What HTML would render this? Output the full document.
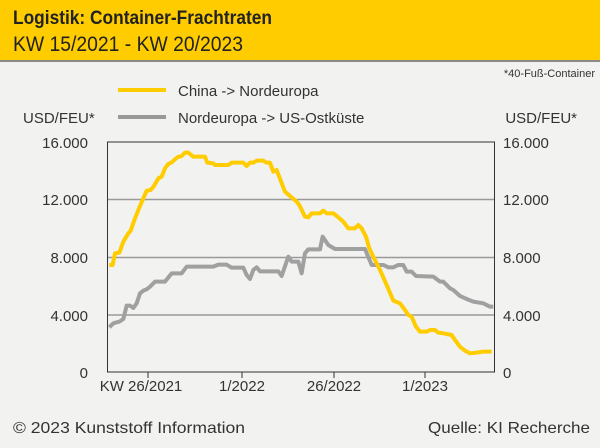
<!DOCTYPE html>
<html><head><meta charset="utf-8"><style>
body{margin:0;width:600px;height:443px;background:#f2f2f1;overflow:hidden;font-family:"Liberation Sans",sans-serif}
</style></head><body>
<svg width="600" height="443" xmlns="http://www.w3.org/2000/svg" font-family="Liberation Sans, sans-serif">
<rect x="0" y="0" width="600" height="61" fill="#ffcc00"/>
<rect x="0" y="60" width="600" height="2" fill="#8a8a86"/>
<text x="13" y="24" font-size="19" font-weight="bold" fill="#222" textLength="259" lengthAdjust="spacingAndGlyphs">Logistik: Container-Frachtraten</text>
<text x="13" y="51" font-size="21" fill="#222" textLength="230" lengthAdjust="spacingAndGlyphs">KW 15/2021 - KW 20/2023</text>
<text x="595" y="77" font-size="11" fill="#333" text-anchor="end">*40-Fuß-Container</text>
<rect x="118" y="88" width="48" height="4" fill="#ffcc00"/>
<rect x="118" y="115" width="48" height="4" fill="#999"/>
<text x="178" y="96" font-size="15" fill="#333">China -&gt; Nordeuropa</text>
<text x="178" y="123" font-size="15" fill="#333">Nordeuropa -&gt; US-Ostküste</text>
<text x="23" y="123" font-size="15" fill="#333">USD/FEU*</text>
<text x="577" y="123" font-size="15" fill="#333" text-anchor="end">USD/FEU*</text>
<g stroke="#999" stroke-width="1.5">
<line x1="107" y1="199.5" x2="495" y2="199.5"/>
<line x1="107" y1="257.5" x2="495" y2="257.5"/>
<line x1="107" y1="315" x2="495" y2="315"/>
</g>
<g stroke="#333" stroke-width="1" fill="none">
<rect x="107.5" y="142" width="387" height="230"/>
<line x1="148" y1="372" x2="148" y2="378"/>
<line x1="242" y1="372" x2="242" y2="378"/>
<line x1="334" y1="372" x2="334" y2="378"/>
<line x1="425" y1="372" x2="425" y2="378"/>
</g>
<g font-size="15" fill="#333" text-anchor="end">
<text x="88" y="148">16.000</text><text x="88" y="205">12.000</text><text x="88" y="263">8.000</text><text x="88" y="321">4.000</text><text x="88" y="378">0</text>
</g>
<g font-size="15" fill="#333" text-anchor="start">
<text x="503" y="148">16.000</text><text x="503" y="205">12.000</text><text x="503" y="263">8.000</text><text x="503" y="321">4.000</text><text x="503" y="378">0</text>
</g>
<g font-size="15" fill="#333" text-anchor="middle">
<text x="141" y="391">KW 26/2021</text><text x="242" y="391">1/2022</text><text x="334" y="391">26/2022</text><text x="425" y="391">1/2023</text>
</g>
<g transform="translate(90,130) scale(0.3333)" fill="none" stroke-width="12" stroke-linejoin="round">
<polyline stroke="#a0a0a0" points="58,592 70,580 80,577 88,575 100,567 110,527 120,527 130,534 140,520 150,490 160,482 170,478 180,470 195,455 225,455 245,430 275,430 290,410 370,410 385,404 410,404 425,413 460,413 470,435 480,447 490,420 500,412 510,424 565,424 575,438 595,380 605,395 625,395 635,430 645,370 655,358 690,358 698,320 715,345 735,357 825,357 845,405 880,405 895,412 910,412 925,405 940,405 950,425 965,425 978,438 1030,440 1050,455 1060,455 1080,475 1090,480 1110,498 1130,507 1150,515 1180,520 1200,530 1210,530"/>
<polyline stroke="#ffcc00" points="58,405 68,405 75,370 88,368 100,335 115,310 122,302 135,265 150,228 170,182 182,180 192,168 205,145 215,140 225,115 235,102 245,97 262,82 275,78 285,68 295,68 310,80 345,80 352,98 370,100 375,105 415,105 425,98 460,98 470,108 480,98 490,98 500,92 520,92 530,98 540,98 550,125 560,120 585,185 600,198 620,215 628,225 645,260 655,262 665,250 690,250 700,242 710,250 730,250 745,262 760,275 775,295 795,295 805,285 815,295 828,320 838,355 850,380 870,420 890,465 910,512 930,520 945,540 955,555 965,560 978,590 990,605 1010,605 1020,600 1035,600 1045,608 1060,610 1070,612 1085,615 1095,630 1110,650 1125,662 1140,670 1160,668 1180,665 1205,665"/>
</g>
<text x="13" y="433" font-size="16" fill="#333" textLength="232" lengthAdjust="spacingAndGlyphs">© 2023 Kunststoff Information</text>
<text x="590" y="433" font-size="16" fill="#333" text-anchor="end" textLength="162" lengthAdjust="spacingAndGlyphs">Quelle: KI Recherche</text>
</svg>
</body></html>
